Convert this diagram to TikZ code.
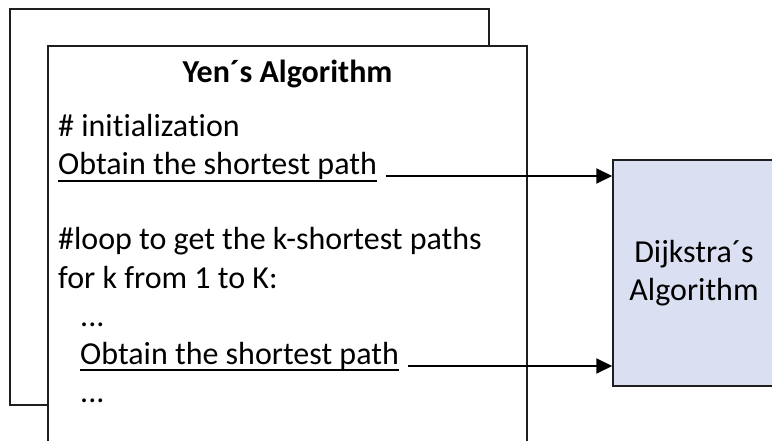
\documentclass[tikz,border=0pt]{standalone}
\usepackage{fontspec}
\setmainfont{Carlito}[Ligatures={NoCommon,NoRequired}]
\usetikzlibrary{arrows.meta}
\definecolor{dijfill}{RGB}{218,224,242}
\definecolor{edge}{RGB}{30,30,30}
\tikzset{
  frame/.style={draw=edge, line width=1.5pt, fill=white},
  body/.style={anchor=base west, inner sep=0pt, font=\fontsize{32}{38}\selectfont},
  title/.style={anchor=base, inner sep=0pt, font=\fontsize{32}{38}\selectfont\bfseries},
  dijbox/.style={draw=edge, line width=1.5pt, fill=dijfill, minimum width=162pt,
    minimum height=226pt, align=center, inner sep=0pt, font=\fontsize{32}{38}\selectfont},
  uline/.style={line width=1.5pt, draw=black},
  callarrow/.style={line width=2pt, draw=black, -{Triangle[length=16pt,width=15pt]}}
}
\begin{document}
\begin{tikzpicture}[x=1pt,y=-1pt]
\useasboundingbox (0,0) rectangle (772,441);
\begin{scope}
\clip (0,0) rectangle (772,441);
% stacked pages of the outer routine
\draw[frame] (10,9) rectangle (489,405);
\draw[frame] (48,46) rectangle (527,470);
% the shortest-path subroutine
\node[dijbox] (dij) at (694,273) {Dijkstra´s\\Algorithm};

\node[title] (ttl) at (287.5,83) {Yen´s Algorithm};
\node[body] (l1) at (58,137) {\# initialization};
\node[body] (o1) at (58,175) {Obtain the shortest path};
\node[body] (l3) at (58,250) {\#loop to get the k-shortest paths};
\node[body] (l4) at (58,288) {for k from 1 to K:};
\node[body] (l5) at (80,326) {...};
\node[body] (o2) at (80,364) {Obtain the shortest path};
\node[body] (l7) at (80,402) {...};

\draw[uline] ([yshift=-6pt]o1.base west) -- ([yshift=-6pt]o1.base east);
\draw[uline] ([yshift=-6pt]o2.base west) -- ([yshift=-6pt]o2.base east);

\coordinate (s1) at ([xshift=9pt,yshift=-1pt]o1.base east);
\coordinate (s2) at ([xshift=9pt,yshift=-2pt]o2.base east);
\draw[callarrow] (s1) -- (dij.west |- s1);
\draw[callarrow] (s2) -- (dij.west |- s2);
\end{scope}
\end{tikzpicture}
\end{document}
